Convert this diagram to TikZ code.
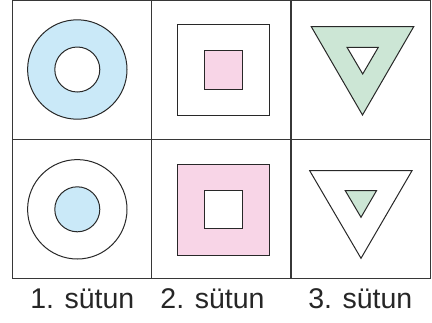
\documentclass[tikz,border=0pt]{standalone}
\usepackage{fontspec}
\setmainfont{Liberation Sans}
\definecolor{lblue}{RGB}{202,233,248}
\definecolor{lpink}{RGB}{248,213,231}
\definecolor{lgreen}{RGB}{204,230,213}
\definecolor{gridc}{RGB}{55,55,55}
\definecolor{linec}{RGB}{40,40,40}
\begin{document}
\begin{tikzpicture}[x=1pt,y=-1pt,
  gridline/.style={draw=gridc,line width=1.5pt},
  shapeline/.style={draw=linec,line width=1pt,line join=miter},
  lbl/.style={font=\fontsize{28.5}{30}\selectfont,anchor=base,inner sep=0pt,text=black!85}]
\useasboundingbox (0,0) rectangle (432,322);
\fill[white] (0,0) rectangle (432,322);
% row 1, column 1
\filldraw[shapeline,fill=lblue,even odd rule] (77.3,69.5) circle (49.7) (77.3,69.5) circle (22.5);
% row 2, column 1
\draw[shapeline] (77.3,209.3) circle (49.7);
\filldraw[shapeline,fill=lblue] (77.3,209.3) circle (22.5);
% row 1, column 2
\draw[shapeline] (177.7,24.3) rectangle (269.3,115.3);
\filldraw[shapeline,fill=lpink] (204,50.7) rectangle (242.7,89.3);
% row 2, column 2
\filldraw[shapeline,fill=lpink,even odd rule] (177.7,164) rectangle (269.3,255.3) (204,190) rectangle (242.7,228.7);
% row 1, column 3
\filldraw[shapeline,fill=lgreen,even odd rule] (311.3,26.7) -- (413.7,26.7) -- (362.5,115) -- cycle
  (347,47.3) -- (378.3,47.3) -- (362.7,74) -- cycle;
% row 2, column 3
\draw[shapeline] (309.7,170.7) -- (412,170.7) -- (361,258.3) -- cycle;
\filldraw[shapeline,fill=lgreen] (345.3,190.7) -- (376.5,190.7) -- (361,217.3) -- cycle;
% grid
\draw[gridline] (12.3,0.5) rectangle (430.3,278.7);
\draw[gridline] (151.7,0.5) -- (151.7,278.7);
\draw[gridline] (291,0.5) -- (291,278.7);
\draw[gridline] (12.3,139.3) -- (430.3,139.3);
% labels
\node[lbl] (l1) at (82.3,308) {1. sütun};
\node[lbl] (l2) at (212.5,308) {2. sütun};
\node[lbl] (l3) at (360.3,308) {3. sütun};
\end{tikzpicture}
\end{document}
